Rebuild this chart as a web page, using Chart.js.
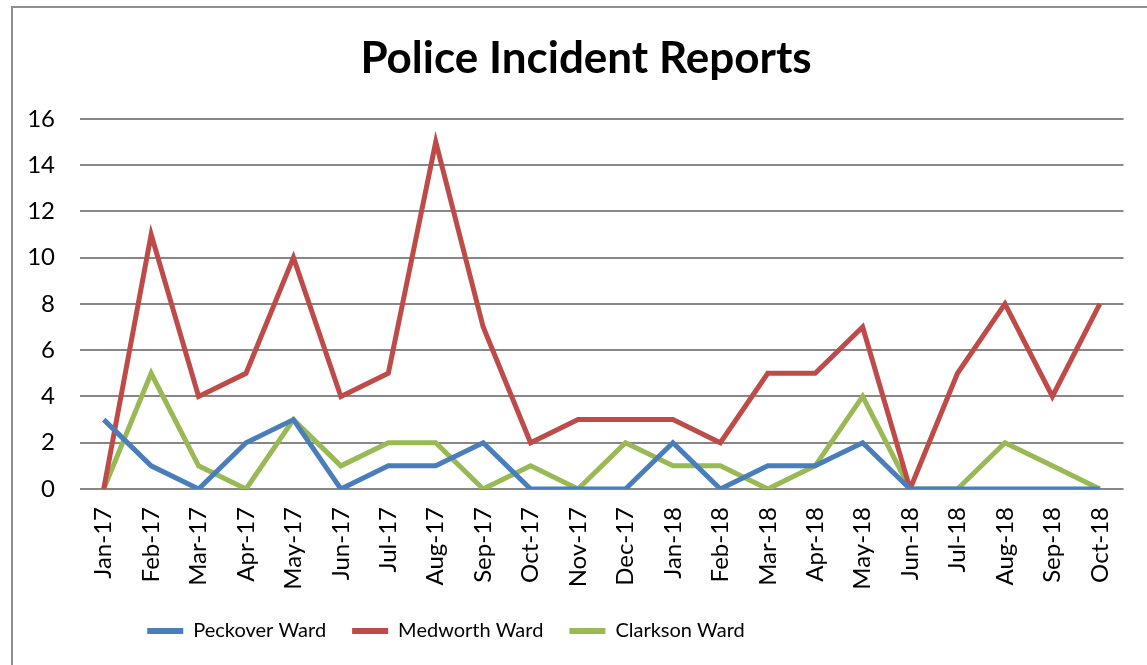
<!DOCTYPE html>
<html>
<head>
<meta charset="utf-8">
<script src="https://cdn.jsdelivr.net/npm/chart.js@4/dist/chart.umd.min.js"></script>
<style>
  html, body { margin: 0; padding: 0; background: #fff; }
  #wrap { position: relative; width: 1147px; height: 665px; overflow: hidden; }
  #frame { position: absolute; left: 11px; top: 6px; width: 1200px; height: 700px; border: 2px solid #8e8e8e; }
  canvas { position: absolute; left: 0; top: 0; }
</style>
</head>
<body>
<div id="wrap">
  <div id="frame"></div>
  <canvas id="chart" width="1147" height="665"></canvas>
</div>
<script>
const months = ["Jan-17", "Feb-17", "Mar-17", "Apr-17", "May-17", "Jun-17", "Jul-17", "Aug-17",
    "Sep-17", "Oct-17", "Nov-17", "Dec-17", "Jan-18", "Feb-18", "Mar-18", "Apr-18",
    "May-18", "Jun-18", "Jul-18", "Aug-18", "Sep-18", "Oct-18"];
const peckover = [3, 1, 0, 2, 3, 0, 1, 1, 2, 0, 0, 0, 2, 0, 1, 1, 2, 0, 0, 0, 0, 0];
const medworth = [0, 11, 4, 5, 10, 4, 5, 15, 7, 2, 3, 3, 3, 2, 5, 5, 7, 0, 5, 8, 4, 8];
const clarkson = [0, 5, 1, 0, 3, 1, 2, 2, 0, 1, 0, 2, 1, 1, 0, 1, 4, 0, 0, 2, 1, 0];

const font = "Lato, 'Open Sans', sans-serif";

function series(label, data, color) {
    return {
        label: label,
        data: data,
        borderColor: color,
        backgroundColor: color,
        borderWidth: 5,
        pointRadius: 0,
        tension: 0,
        fill: false
    };
}

// the original has the title a bit right of centre and the legend left of it
const nudgeBoxes = {
    id: "nudgeBoxes",
    afterLayout(chart) {
        const lg = chart.legend;
        if (lg) {
            lg.left -= 119;
            lg.right -= 119;
        }
        const tb = chart.titleBlock;
        if (tb) {
            tb.left += 21;
            tb.right += 21;
        }
    }
};

new Chart(document.getElementById("chart"), {
    type: "line",
    data: {
        labels: months,
        datasets: [
            series("Peckover Ward", peckover, "#4a7ebb"),
            series("Medworth Ward", medworth, "#be4b48"),
            series("Clarkson Ward", clarkson, "#98b954")
        ]
    },
    options: {
        responsive: false,
        animation: false,
        layout: { padding: { left: 0, right: 17, top: 0, bottom: 14 } },
        scales: {
            x: {
                offset: true,
                grid: { display: false, drawTicks: false },
                border: { display: false },
                ticks: {
                    color: "#000",
                    font: { family: font, size: 24 },
                    minRotation: 90,
                    maxRotation: 90,
                    autoSkip: false,
                    padding: 18
                },
                afterFit: scale => { scale.height = 106; }
            },
            y: {
                min: 0,
                max: 16,
                ticks: {
                    stepSize: 2,
                    color: "#000",
                    font: { family: font, size: 24 },
                    padding: 25
                },
                grid: { color: "#878787", lineWidth: 2, drawTicks: false },
                border: { display: false },
                afterFit: scale => { scale.width = 80; }
            }
        },
        plugins: {
            title: {
                display: true,
                text: "Police Incident Reports",
                color: "#000",
                font: { family: font, size: 44, weight: "bold" },
                padding: { top: 32, bottom: 34 }
            },
            legend: {
                position: "bottom",
                labels: {
                    color: "#000",
                    font: { family: font, size: 20 },
                    boxWidth: 36,
                    boxHeight: 6,
                    padding: 26,
                    generateLabels: chart => Chart.defaults.plugins.legend.labels.generateLabels(chart)
                        .map(item => Object.assign(item, { lineWidth: 0 }))
                }
            },
            tooltip: { enabled: false }
        }
    },
    plugins: [nudgeBoxes]
});
</script>
</body>
</html>
